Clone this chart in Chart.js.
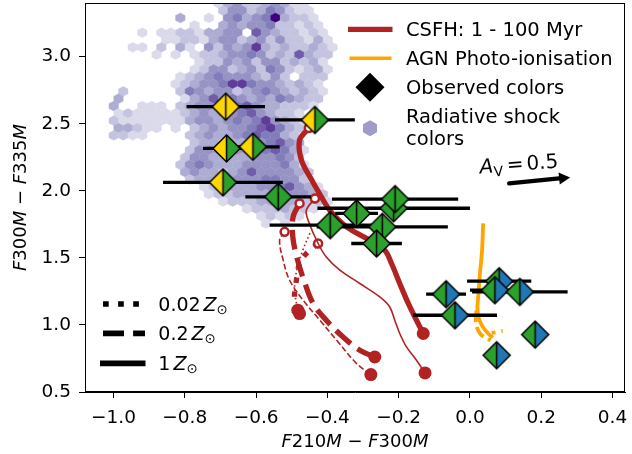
<!DOCTYPE html>
<html>
<head>
<meta charset="utf-8">
<script src="https://cdn.jsdelivr.net/npm/chart.js@4.4.0/dist/chart.umd.min.js"></script>
<style>
  html, body { margin: 0; padding: 0; background: #fff; }
  canvas { display: block; }
</style>
</head>
<body>
<canvas id="colorChart" width="632" height="454"></canvas>
<script>
/* --------------- Axis ticks --------------- */
const xTicks = [-1.0, -0.8, -0.6, -0.4, -0.2, 0.0, 0.2, 0.4];
const yTicks = [0.5, 1.0, 1.5, 2.0, 2.5, 3.0];

/* --------------- Observed colors (split diamonds + x error) --------------- */
const obsX     = [-0.685, -0.435, -0.683, -0.609, -0.693, -0.538, -0.214, -0.210, -0.318, -0.392, -0.246, -0.262, -0.067, -0.042, 0.082, 0.070, 0.140, 0.183, 0.075];
const obsY     = [2.627, 2.528, 2.316, 2.328, 2.063, 1.955, 1.870, 1.938, 1.831, 1.744, 1.731, 1.607, 1.229, 1.072, 1.326, 1.259, 1.246, 0.928, 0.774];
const obsXerr  = [0.110, 0.112, 0.066, 0.075, 0.168, 0.092, 0.214, 0.177, 0.060, 0.170, 0.184, 0.071, 0.056, 0.118, 0.090, 0.070, 0.134, 0, 0];
const obsLeft  = ["Y", "Y", "Y", "Y", "Y", "G", "G", "G", "G", "G", "G", "G", "G", "G", "G", "G", "G", "G", "G"];
const obsRight = ["Y", "G", "G", "G", "G", "G", "G", "G", "G", "G", "G", "G", "B", "B", "B", "B", "B", "B", "B"];

/* --------------- CSFH tracks (1 - 100 Myr) --------------- */
const solidThickX = [-0.452, -0.478, -0.473, -0.449, -0.417, -0.393, -0.346, -0.281, -0.239, -0.220, -0.197, -0.173, -0.150, -0.131];
const solidThickY = [2.468, 2.378, 2.229, 2.104, 1.955, 1.854, 1.731, 1.631, 1.557, 1.458, 1.309, 1.160, 1.035, 0.936];
const solidThinX  = [-0.435, -0.459, -0.454, -0.426, -0.403, -0.365, -0.309, -0.253, -0.225, -0.211, -0.197, -0.178, -0.150, -0.126];
const solidThinY  = [1.943, 1.856, 1.781, 1.607, 1.507, 1.408, 1.309, 1.209, 1.134, 1.035, 0.936, 0.836, 0.737, 0.642];
const dashThickX  = [-0.478, -0.496, -0.497, -0.486, -0.466, -0.440, -0.403, -0.356, -0.309, -0.267];
const dashThickY  = [1.906, 1.806, 1.657, 1.507, 1.334, 1.160, 1.035, 0.910, 0.811, 0.761];
const dashThinX   = [-0.520, -0.534, -0.524, -0.506, -0.468, -0.421, -0.374, -0.318, -0.278];
const dashThinY   = [1.694, 1.632, 1.483, 1.333, 1.184, 1.035, 0.886, 0.712, 0.630];
const dotThickX   = [-0.426, -0.459, -0.478, -0.487, -0.492, -0.478];
const dotThickY   = [1.607, 1.533, 1.458, 1.333, 1.184, 1.085];
const dotThinX    = [-0.449, -0.469, -0.486, -0.492, -0.483];
const dotThinY    = [1.684, 1.557, 1.408, 1.259, 1.110];

/* --------------- AGN photo-ionisation --------------- */
const agnSolidX = [0.037, 0.034, 0.028, 0.024, 0.021, 0.024, 0.034, 0.048, 0.064];
const agnSolidY = [1.757, 1.557, 1.383, 1.234, 1.135, 1.060, 0.995, 0.945, 0.905];
const agnDashX  = [0.018, 0.017, 0.030, 0.058];
const agnDashY  = [1.110, 1.010, 0.930, 0.885];
const agnDotX   = [0.061, 0.092];
const agnDotY   = [0.940, 0.955];

/* --------------- A_V = 0.5 reddening vector --------------- */
const avArrowX = [0.110, 0.281];
const avArrowY = [2.055, 2.100];

/* --------------- Radiative shock hexbin (counts 1-9, 0 = empty) --------------- */
const hexX0 = -0.9994;
const hexDx = 0.02669;
const hexY0 = 3.398;
const hexDy = 0.05473;
const hexRows = [
  "0000000000013422343110000",
  "0000000000024423542110000",
  "0000000300104534593221000",
  "0000000010034344522121000",
  "0001011221334406432212100",
  "0000011221344234242213100",
  "0011020310424347323223210",
  "0000101012234454232632200",
  "0000000001224342442323100",
  "0000000012442342542123100",
  "0000000123454443242022200",
  "0000001234457754432321000",
  "0200000254344234543232100",
  "3000000134645434354322000",
  "3001110234444564332221000",
  "1211111234344564322100000",
  "2111111134434545743210000",
  "3321101023434456753200000",
  "2211000023433456553200000",
  "0000000023323344564300000",
  "0000000024443445565310000",
  "0000000244333334454200000",
  "0000000245433344445310000",
  "0000000343323464444320000",
  "0000000023333444554420000",
  "0000000001233334456431000",
  "0000000000122333344443200",
  "0000000000012223333322100",
  "0000000000000012223221000",
  "0000000000000001212100000",
  "0000000000000000101000000",
];

const hexCells = [];
hexRows.forEach((row, r) => {
  for (let c = 0; c < row.length; c++) {
    const v = +row[c];
    if (v > 0) {
      hexCells.push({ x: hexX0 + c * hexDx + (r % 2 ? hexDx / 2 : 0), y: hexY0 - r * hexDy, v: v });
    }
  }
});

/* --------------- Colors --------------- */
const RED = "#b22222";
const ORANGE = "#ffa500";
const faceColors = { Y: "#ffd700", G: "#2ca02c", B: "#1f77b4" };
const purpleStops = ["#fcfbfd", "#efedf5", "#dadaeb", "#bcbddc", "#9e9ac8", "#807dba", "#6a51a3", "#54278f", "#3f007d"];

function hexToRgb(h) {
  return [parseInt(h.slice(1, 3), 16), parseInt(h.slice(3, 5), 16), parseInt(h.slice(5, 7), 16)];
}
function purples(t) {
  const p = Math.max(0, Math.min(1, t)) * 8;
  const i = Math.min(7, Math.floor(p));
  const f = p - i;
  const a = hexToRgb(purpleStops[i]), b = hexToRgb(purpleStops[i + 1]);
  const m = a.map((v, k) => Math.round(v + (b[k] - v) * f));
  return "rgb(" + m.join(",") + ")";
}
const hexColor = v => purples(0.25 + 0.75 * (v - 1) / 8);

/* --------------- Split diamond marker images --------------- */
function diamondImage(left, right, r) {
  const c = document.createElement("canvas");
  const s = Math.ceil(2 * r + 4);
  c.width = s; c.height = s;
  const g = c.getContext("2d");
  const m = s / 2;
  g.beginPath(); g.moveTo(m, m - r); g.lineTo(m - r, m); g.lineTo(m, m + r); g.closePath();
  g.fillStyle = left; g.fill();
  g.beginPath(); g.moveTo(m, m - r); g.lineTo(m + r, m); g.lineTo(m, m + r); g.closePath();
  g.fillStyle = right; g.fill();
  g.strokeStyle = "#000"; g.lineWidth = 1.5; g.lineJoin = "miter";
  g.beginPath(); g.moveTo(m, m - r); g.lineTo(m + r, m); g.lineTo(m, m + r); g.lineTo(m - r, m); g.closePath(); g.stroke();
  g.beginPath(); g.moveTo(m, m - r); g.lineTo(m, m + r); g.stroke();
  return c;
}
const diamondImgs = {};
["YY", "YG", "GG", "GB"].forEach(k => {
  diamondImgs[k] = diamondImage(faceColors[k[0]], faceColors[k[1]], 13.5);
});

/* --------------- Helpers --------------- */
const pts = (xs, ys) => xs.map((x, i) => ({ x: x, y: ys[i] }));
const FONT = '"DejaVu Sans"';

function track(xs, ys, width, dash, openStart) {
  const n = xs.length;
  return {
    data: pts(xs, ys),
    showLine: true,
    borderColor: RED,
    borderWidth: width,
    borderDash: dash,
    borderJoinStyle: "round",
    tension: 0.35,
    pointRadius: c => (c.dataIndex === 0 && openStart) ? 4 : (c.dataIndex === n - 1 ? 6.5 : 0),
    pointBackgroundColor: c => c.dataIndex === 0 ? "#fff" : RED,
    pointBorderColor: RED,
    pointBorderWidth: c => c.dataIndex === 0 ? 2.5 : 0,
    order: 5,
  };
}

function runWidth(ctx, runs, size) {
  let w = 0;
  runs.forEach(r => {
    if (r.gap) { w += r.gap; return; }
    ctx.font = (r.it ? "italic " : "") + (size * (r.s || 1)) + "px " + FONT;
    w += ctx.measureText(r.t).width;
  });
  return w;
}
function drawRuns(ctx, runs, x, y, size, align) {
  let cx = x;
  if (align === "center") cx -= runWidth(ctx, runs, size) / 2;
  ctx.textAlign = "left";
  ctx.textBaseline = "alphabetic";
  runs.forEach(r => {
    if (r.gap) { cx += r.gap; return; }
    ctx.font = (r.it ? "italic " : "") + (size * (r.s || 1)) + "px " + FONT;
    ctx.fillText(r.t, cx, y + (r.dy || 0));
    cx += ctx.measureText(r.t).width;
  });
}

const MINUS = "\u2212";
const xTitleRuns = [{ t: "F", it: 1 }, { t: "210" }, { t: "M", it: 1 }, { t: " " + MINUS + " " }, { t: "F", it: 1 }, { t: "300" }, { t: "M", it: 1 }];
const yTitleRuns = [{ t: "F", it: 1 }, { t: "300" }, { t: "M", it: 1 }, { t: " " + MINUS + " " }, { t: "F", it: 1 }, { t: "335" }, { t: "M", it: 1 }];
const zRuns = num => [{ t: num }, { gap: 3 }, { t: "Z", it: 1 }, { t: "\u2299", s: 0.7, dy: 3 }];

/* --------------- Custom drawing plugin --------------- */
const extras = {
  id: "extras",
  beforeDatasetsDraw(chart) {
    const { ctx, chartArea: a, scales: { x, y } } = chart;
    const idx = chart.data.datasets.findIndex(d => d.kind === "hex");
    const meta = chart.getDatasetMeta(idx);
    const hw = Math.abs(x.getPixelForValue(hexDx / 2) - x.getPixelForValue(0));
    const hv = Math.abs(y.getPixelForValue(hexDy * 2 / 3) - y.getPixelForValue(0));
    const hs = hv / 2;
    ctx.save();
    ctx.beginPath(); ctx.rect(a.left, a.top, a.right - a.left, a.bottom - a.top); ctx.clip();
    meta.data.forEach((el, i) => {
      const col = hexColor(hexCells[i].v);
      ctx.beginPath();
      ctx.moveTo(el.x, el.y - hv);
      ctx.lineTo(el.x + hw, el.y - hs);
      ctx.lineTo(el.x + hw, el.y + hs);
      ctx.lineTo(el.x, el.y + hv);
      ctx.lineTo(el.x - hw, el.y + hs);
      ctx.lineTo(el.x - hw, el.y - hs);
      ctx.closePath();
      ctx.fillStyle = col; ctx.fill();
      ctx.strokeStyle = col; ctx.lineWidth = 0.4; ctx.stroke();
    });
    ctx.restore();
  },
  beforeDatasetDraw(chart, args) {
    if (chart.data.datasets[args.index].kind !== "obs") return;
    const { ctx, scales: { x } } = chart;
    ctx.save();
    ctx.strokeStyle = "#000"; ctx.lineWidth = 3.3; ctx.lineCap = "butt";
    args.meta.data.forEach((el, i) => {
      if (!obsXerr[i]) return;
      ctx.beginPath();
      ctx.moveTo(x.getPixelForValue(obsX[i] - obsXerr[i]), el.y);
      ctx.lineTo(x.getPixelForValue(obsX[i] + obsXerr[i]), el.y);
      ctx.stroke();
    });
    ctx.restore();
  },
  afterDraw(chart) {
    const { ctx, chartArea: a, scales: { x, y } } = chart;
    ctx.save();
    // frame
    ctx.strokeStyle = "#000"; ctx.lineWidth = 1;
    ctx.strokeRect(a.left + 0.5, a.top + 0.5, a.right - a.left - 1, a.bottom - a.top - 1);

    // reddening arrow
    const ax0 = x.getPixelForValue(avArrowX[0]), ay0 = y.getPixelForValue(avArrowY[0]);
    const ax1 = x.getPixelForValue(avArrowX[1]), ay1 = y.getPixelForValue(avArrowY[1]);
    const ang = Math.atan2(ay1 - ay0, ax1 - ax0);
    const hl = 11, hwid = 6;
    ctx.strokeStyle = "#000"; ctx.fillStyle = "#000";
    ctx.lineWidth = 4.3; ctx.lineCap = "round";
    ctx.beginPath();
    ctx.moveTo(ax0, ay0);
    ctx.lineTo(ax1 - hl * Math.cos(ang), ay1 - hl * Math.sin(ang));
    ctx.stroke();
    ctx.beginPath();
    ctx.moveTo(ax1, ay1);
    ctx.lineTo(ax1 - hl * Math.cos(ang) + hwid * Math.sin(ang), ay1 - hl * Math.sin(ang) - hwid * Math.cos(ang));
    ctx.lineTo(ax1 - hl * Math.cos(ang) - hwid * Math.sin(ang), ay1 - hl * Math.sin(ang) + hwid * Math.cos(ang));
    ctx.closePath(); ctx.fill();

    // A_V label
    ctx.save();
    ctx.translate(480, 173.5);
    ctx.rotate(-4.3 * Math.PI / 180);
    drawRuns(ctx, [{ t: "A", it: 1 }, { t: "V", s: 0.7, dy: 4 }, { gap: 4 }, { t: "=" }, { gap: 3 }, { t: "0.5" }], 0, 0, 20, "left");
    ctx.restore();

    // upper-right legend
    ctx.lineCap = "butt";
    ctx.strokeStyle = RED; ctx.lineWidth = 5.3;
    ctx.beginPath(); ctx.moveTo(348, 29.3); ctx.lineTo(392.5, 29.3); ctx.stroke();
    ctx.strokeStyle = ORANGE; ctx.lineWidth = 3.6;
    ctx.beginPath(); ctx.moveTo(349.5, 58.3); ctx.lineTo(391.5, 58.3); ctx.stroke();
    ctx.fillStyle = "#000";
    ctx.beginPath(); ctx.moveTo(370, 72.8); ctx.lineTo(384.5, 87.3); ctx.lineTo(370, 101.8); ctx.lineTo(355.5, 87.3); ctx.closePath(); ctx.fill();
    ctx.fillStyle = "#a09cc9";
    ctx.beginPath();
    ctx.moveTo(370, 120.3); ctx.lineTo(377, 124.3); ctx.lineTo(377, 132.3);
    ctx.lineTo(370, 136.3); ctx.lineTo(363, 132.3); ctx.lineTo(363, 124.3);
    ctx.closePath(); ctx.fill();

    ctx.fillStyle = "#000";
    drawRuns(ctx, [{ t: "CSFH: 1 - 100 Myr" }], 406, 36, 19.5, "left");
    drawRuns(ctx, [{ t: "AGN Photo-ionisation" }], 406, 65, 19.5, "left");
    drawRuns(ctx, [{ t: "Observed colors" }], 406, 94.3, 19.5, "left");
    drawRuns(ctx, [{ t: "Radiative shock" }], 406, 123.3, 19.5, "left");
    drawRuns(ctx, [{ t: "colors" }], 406, 145, 19.5, "left");

    // lower-left metallicity legend
    ctx.strokeStyle = "#000"; ctx.lineWidth = 5.7;
    ctx.setLineDash([5.7, 9.4]);
    ctx.beginPath(); ctx.moveTo(103, 304); ctx.lineTo(142, 304); ctx.stroke();
    ctx.setLineDash([21, 9.1]);
    ctx.beginPath(); ctx.moveTo(103, 333.3); ctx.lineTo(145, 333.3); ctx.stroke();
    ctx.setLineDash([]);
    ctx.beginPath(); ctx.moveTo(100, 363.3); ctx.lineTo(145.5, 363.3); ctx.stroke();
    drawRuns(ctx, zRuns("0.02"), 158.3, 310.7, 19, "left");
    drawRuns(ctx, zRuns("0.2"), 158.3, 340.3, 19, "left");
    drawRuns(ctx, zRuns("1"), 158.3, 370, 19, "left");

    // axis titles
    drawRuns(ctx, xTitleRuns, (a.left + a.right) / 2, 446.5, 18, "center");
    ctx.save();
    ctx.translate(25.5, (a.top + a.bottom) / 2);
    ctx.rotate(-Math.PI / 2);
    drawRuns(ctx, yTitleRuns, 0, 0, 18, "center");
    ctx.restore();
    ctx.restore();
  },
};

/* --------------- Chart --------------- */
const tickFmt = v => v.toFixed(1).replace("-", MINUS);
const fixBox = (s, key, size) => {
  s[key] = size;
  s.paddingTop = 0; s.paddingBottom = 0; s.paddingLeft = 0; s.paddingRight = 0;
};

const colorChart = new Chart(document.getElementById("colorChart"), {
  type: "scatter",
  data: {
    datasets: [
      { label: "Radiative shock colors", kind: "hex", data: hexCells, pointRadius: 0, order: 10 },
      track(solidThickX, solidThickY, 5.3, [], true),
      track(solidThinX, solidThinY, 1.6, [], true),
      track(dashThickX, dashThickY, 5.3, [19.6, 8.5], true),
      track(dashThinX, dashThinY, 1.6, [5.9, 2.6], true),
      track(dotThickX, dotThickY, 5.3, [5.3, 8.7], true),
      track(dotThinX, dotThinY, 1.6, [1.6, 2.6], false),
      { label: "AGN Photo-ionisation", data: pts(agnSolidX, agnSolidY), showLine: true, borderColor: ORANGE, borderWidth: 3.8, tension: 0.35, pointRadius: 0, order: 4 },
      { label: "AGN dashed", data: pts(agnDashX, agnDashY), showLine: true, borderColor: ORANGE, borderWidth: 3.8, borderDash: [12, 5], tension: 0.35, pointRadius: 0, order: 4 },
      { label: "AGN dotted", data: pts(agnDotX, agnDotY), showLine: true, borderColor: ORANGE, borderWidth: 3.8, borderDash: [3.8, 6], pointRadius: 0, order: 4 },
      {
        label: "Observed colors",
        kind: "obs",
        data: pts(obsX, obsY),
        pointStyle: c => diamondImgs[obsLeft[c.dataIndex] + obsRight[c.dataIndex]],
        pointRadius: 13.5,
        order: 0,
      },
    ],
  },
  options: {
    responsive: false,
    animation: false,
    events: [],
    layout: { autoPadding: false, padding: { top: 3, right: 7, left: 0, bottom: 0 } },
    plugins: { legend: { display: false }, tooltip: { enabled: false } },
    scales: {
      x: {
        type: "linear",
        min: -1.08,
        max: 0.435,
        afterBuildTicks: s => { s.ticks = xTicks.map(v => ({ value: v })); },
        afterFit: s => fixBox(s, "height", 62),
        ticks: { color: "#000", autoSkip: false, maxRotation: 0, padding: 9, font: { family: "DejaVu Sans", size: 18.5 }, callback: tickFmt },
        grid: { drawOnChartArea: false, color: "#000", tickLength: 6, tickWidth: 1 },
        border: { color: "#000", width: 1 },
      },
      y: {
        type: "linear",
        min: 0.5,
        max: 3.4,
        afterBuildTicks: s => { s.ticks = yTicks.map(v => ({ value: v })); },
        afterFit: s => fixBox(s, "width", 85),
        ticks: { color: "#000", autoSkip: false, padding: 8, font: { family: "DejaVu Sans", size: 18.5 }, callback: tickFmt },
        grid: { drawOnChartArea: false, color: "#000", tickLength: 6, tickWidth: 1 },
        border: { color: "#000", width: 1 },
      },
    },
  },
  plugins: [extras],
});
</script>
</body>
</html>
